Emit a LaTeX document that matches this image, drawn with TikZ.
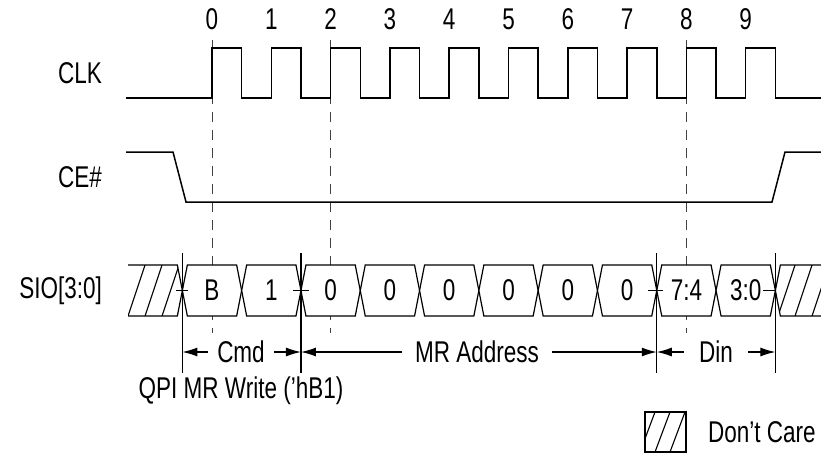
\documentclass[tikz,border=0pt]{standalone}
\usepackage{fontspec}
\setmainfont[FakeStretch=0.75]{Liberation Sans}
\usetikzlibrary{arrows.meta}
\begin{document}
\begin{tikzpicture}[x=1pt,y=-1pt,
  lbl/.style={font=\fontsize{30}{34}\selectfont, inner sep=0pt},
  sig/.style={line width=1.5pt, line join=miter},
  guide/.style={line width=0.9pt, black!75, dash pattern=on 10pt off 8pt},
  bar/.style={line width=1.2pt},
  dimarrow/.style={line width=1.2pt, -{Latex[length=15pt,width=9pt]}},
  cell/.style={line width=1.2pt, fill=white, line join=miter},
  hatch/.style={line width=1.1pt}
]
\useasboundingbox (0,0) rectangle (821,453);

% guides
\foreach \x/\n in {212/g0,330.6/g2,686.4/g8} {
  \coordinate (\n) at (\x,40);
  \draw[guide] (\n) -- ++(0,293);
}

% signal labels
\node[lbl, anchor=east] (lclk) at (102,73) {CLK};
\node[lbl, anchor=east] (lce) at (102,177) {CE\#};
\node[lbl, anchor=east] (lsio) at (102,290.5) {SIO[3:0]};

% clock numbers
\foreach \k in {0,...,9} {
  \pgfmathsetmacro\xr{212+59.3*\k}
  \node[lbl] (n\k) at (\xr,19.5) {\k};
}

% CLK
\draw[sig] (126,98) -- (212,98) |- (241.65,48) |- (271.3,98) |- (300.95,48)
  |- (330.6,98) |- (360.25,48) |- (389.9,98) |- (419.55,48) |- (449.2,98)
  |- (478.85,48) |- (508.5,98) |- (538.15,48) |- (567.8,98) |- (597.45,48)
  |- (627.1,98) |- (656.75,48) |- (686.4,98) |- (716.05,48) |- (745.7,98)
  |- (775.35,48) |- (821,98);

% CE#
\draw[sig] (126,152) -- (173,152) -- (186,202) -- (772,202) -- (785,152) -- (821,152);

% SIO cells
\foreach \t [count=\i from 0] in {B,1,0,0,0,0,0,0,7:4,3:0} {
  \pgfmathsetmacro\a{182.35+59.3*\i}
  \pgfmathsetmacro\b{\a+59.3}
  \draw[cell] (\a,290.5) -- (\a+5,265) -- (\b-5,265) -- (\b,290.5) -- (\b-5,316) -- (\a+5,316) -- cycle;
  \node[lbl] (d\i) at ({(\a+\b)/2},290.5) {\t};
}

% left don't care
\begin{scope}
  \clip (128,265) -- (177.35,265) -- (182.35,290.5) -- (177.35,316) -- (128,316) -- cycle;
  \foreach \k in {0,...,3} \draw[hatch] (128+17*\k,316) -- (145+17*\k,265);
\end{scope}
\draw[cell, fill=none] (128,265) -- (177.35,265) -- (182.35,290.5) -- (177.35,316) -- (128,316);

% right don't care
\begin{scope}
  \clip (780.35,265) -- (821,265) -- (821,316) -- (780.35,316) -- (775.35,290.5) -- cycle;
  \foreach \k in {0,...,3} \draw[hatch] (778+17*\k,316) -- (795+17*\k,265);
\end{scope}
\draw[cell, fill=none] (821,265) -- (780.35,265) -- (775.35,290.5) -- (780.35,316) -- (821,316);

% bars
\foreach \x/\n in {182.35/b0,300.95/b2,656.75/b8,775.35/b10} {
  \coordinate (\n) at (\x,253);
  \draw[bar] (\n) -- ++(0,120);
}
% ticks at crossings
\draw[bar] (176.35,290.5) -- (188.35,290.5);
\draw[bar] (292.95,290.5) -- (308.95,290.5);
\draw[bar] (647.75,290.5) -- (662.75,290.5);
\draw[bar] (763.35,290.5) -- (776.35,290.5);

% span labels and arrows
\node[lbl, inner xsep=9pt] (cmd) at (241,352) {Cmd};
\node[lbl, inner xsep=13pt] (mra) at (477,352) {MR Address};
\node[lbl, inner xsep=15pt] (din) at (716,352) {Din};
\draw[dimarrow] (cmd.west) -- (cmd.west -| b0);
\draw[dimarrow] (cmd.east) -- (cmd.east -| b2);
\draw[dimarrow] (mra.west) -- (mra.west -| b2);
\draw[dimarrow] (mra.east) -- (mra.east -| b8);
\draw[dimarrow] (din.west) -- (din.west -| b8);
\draw[dimarrow] (din.east) -- (din.east -| b10);

\node[lbl] (qpi) at (241,391) {QPI MR Write ('hB1)};

% legend
\begin{scope}
  \clip (645,412) rectangle (686,452);
  \foreach \k in {0,...,3} \draw[hatch] (640+15*\k,452) -- (655+15*\k,412);
\end{scope}
\draw[bar] (645,412) rectangle (686,452);
\node[lbl, anchor=west] (dc) at (708,432) {Don't Care};
\end{tikzpicture}
\end{document}
